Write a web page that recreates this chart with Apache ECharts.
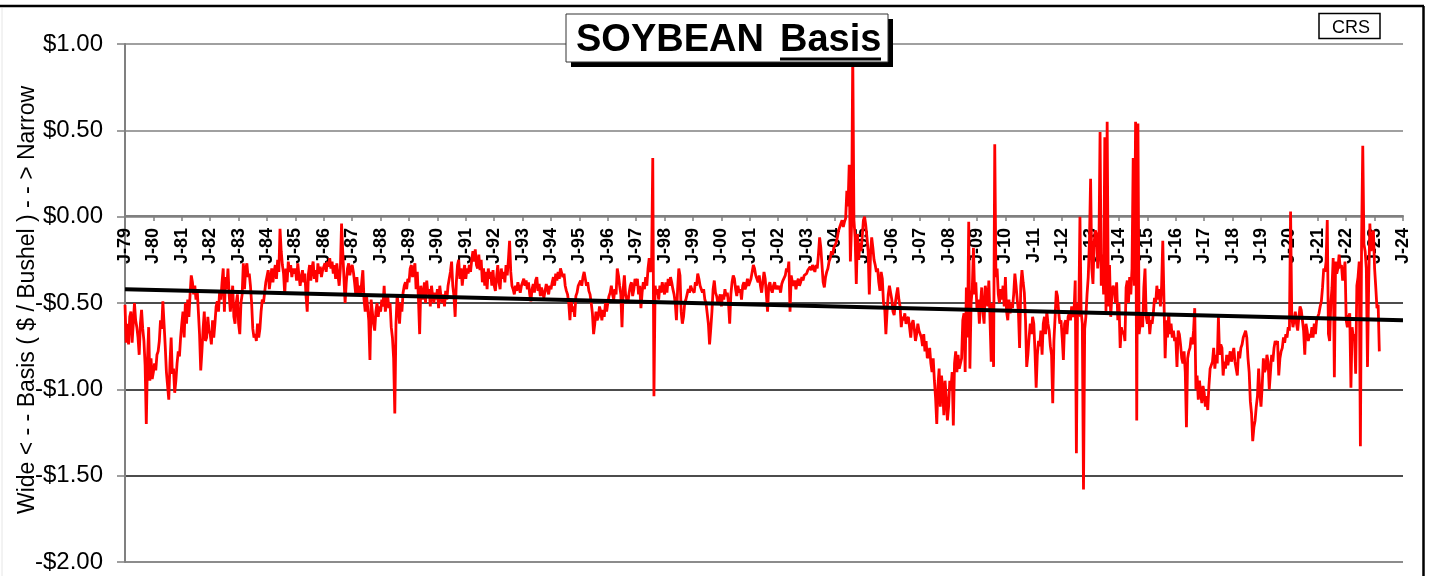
<!DOCTYPE html>
<html>
<head>
<meta charset="utf-8">
<title>SOYBEAN Basis</title>
<script src="https://cdn.jsdelivr.net/npm/echarts@6/dist/echarts.min.js"></script>
<style>
  html, body { margin: 0; padding: 0; background: #fff; }
  #main { width: 1431px; height: 576px; }
</style>
</head>
<body>
<div id="main"></div>
<script>
// weekly-ish basis readings, 24 per year ($ / bushel)
var basis1979 = [
  -0.51,-0.73,-0.62,-0.74,-0.58,-0.55,-0.73,-0.62,-0.50,-0.60,-0.64,-0.70,-0.80,-0.62,-0.54,-0.65,-0.72,-0.86,-1.20,-0.83,-0.64,-0.95,-0.82,-0.94, // 1979
  -0.90,-0.85,-0.89,-0.80,-0.78,-0.72,-0.60,-0.65,-0.49,-0.62,-0.75,-0.90,-0.98,-1.06,-0.85,-0.70,-0.91,-0.88,-1.02,-0.95,-0.85,-0.78,-0.81,-0.70, // 1980
  -0.62,-0.55,-0.70,-0.50,-0.62,-0.48,-0.58,-0.45,-0.34,-0.38,-0.45,-0.40,-0.48,-0.42,-0.55,-0.68,-0.89,-0.78,-0.65,-0.55,-0.72,-0.70,-0.58,-0.66, // 1981
  -0.68,-0.74,-0.60,-0.70,-0.62,-0.52,-0.49,-0.55,-0.43,-0.48,-0.38,-0.30,-0.55,-0.35,-0.42,-0.30,-0.45,-0.55,-0.48,-0.40,-0.58,-0.62,-0.50,-0.45, // 1982
  -0.62,-0.68,-0.50,-0.45,-0.27,-0.42,-0.30,-0.27,-0.35,-0.33,-0.40,-0.50,-0.65,-0.70,-0.68,-0.72,-0.62,-0.70,-0.65,-0.55,-0.48,-0.50,-0.44,-0.38, // 1983
  -0.38,-0.31,-0.42,-0.36,-0.30,-0.38,-0.32,-0.28,-0.36,-0.25,-0.32,-0.07,-0.20,-0.28,-0.33,-0.45,-0.30,-0.38,-0.26,-0.32,-0.28,-0.35,-0.30,-0.33, // 1984
  -0.30,-0.37,-0.27,-0.34,-0.40,-0.35,-0.31,-0.38,-0.33,-0.46,-0.55,-0.33,-0.28,-0.37,-0.30,-0.26,-0.36,-0.31,-0.38,-0.27,-0.33,-0.29,-0.35,-0.31, // 1985
  -0.30,-0.27,-0.32,-0.26,-0.29,-0.24,-0.30,-0.26,-0.33,-0.28,-0.36,-0.27,-0.34,-0.40,-0.30,-0.04,-0.20,-0.35,-0.50,-0.38,-0.30,-0.27,-0.34,-0.30, // 1986
  -0.28,-0.32,-0.38,-0.45,-0.35,-0.44,-0.40,-0.46,-0.38,-0.31,-0.48,-0.55,-0.45,-0.52,-0.60,-0.83,-0.48,-0.55,-0.62,-0.66,-0.55,-0.50,-0.58,-0.52, // 1987
  -0.55,-0.48,-0.52,-0.40,-0.55,-0.50,-0.46,-0.53,-0.50,-0.64,-0.70,-0.82,-1.14,-0.62,-0.45,-0.52,-0.62,-0.50,-0.55,-0.44,-0.40,-0.38,-0.42,-0.36  // 1988
];
var basis1989 = [
  -0.38,-0.30,-0.28,-0.35,-0.31,-0.27,-0.42,-0.32,-0.48,-0.68,-0.40,-0.45,-0.48,-0.38,-0.50,-0.37,-0.45,-0.42,-0.52,-0.40,-0.46,-0.50,-0.44,-0.48, // 1989
  -0.42,-0.53,-0.40,-0.46,-0.50,-0.45,-0.52,-0.43,-0.48,-0.40,-0.36,-0.32,-0.26,-0.40,-0.46,-0.58,-0.38,-0.28,-0.25,-0.36,-0.30,-0.40,-0.33,-0.28, // 1990
  -0.36,-0.30,-0.33,-0.28,-0.32,-0.25,-0.20,-0.26,-0.19,-0.28,-0.30,-0.22,-0.31,-0.25,-0.38,-0.30,-0.40,-0.32,-0.42,-0.30,-0.36,-0.32,-0.40,-0.31, // 1991
  -0.40,-0.43,-0.35,-0.28,-0.38,-0.42,-0.30,-0.36,-0.32,-0.38,-0.28,-0.34,-0.25,-0.14,-0.32,-0.40,-0.42,-0.45,-0.40,-0.43,-0.38,-0.41,-0.44,-0.40, // 1992
  -0.38,-0.36,-0.40,-0.37,-0.42,-0.38,-0.45,-0.49,-0.42,-0.39,-0.44,-0.37,-0.35,-0.43,-0.39,-0.46,-0.41,-0.44,-0.47,-0.48,-0.39,-0.42,-0.45,-0.40, // 1993
  -0.42,-0.38,-0.35,-0.40,-0.33,-0.37,-0.32,-0.36,-0.30,-0.31,-0.35,-0.33,-0.40,-0.43,-0.45,-0.50,-0.60,-0.48,-0.55,-0.52,-0.58,-0.46,-0.44,-0.40, // 1994
  -0.41,-0.37,-0.40,-0.35,-0.32,-0.36,-0.40,-0.38,-0.43,-0.45,-0.50,-0.56,-0.68,-0.62,-0.55,-0.60,-0.58,-0.52,-0.55,-0.60,-0.54,-0.58,-0.50,-0.55, // 1995
  -0.50,-0.46,-0.44,-0.40,-0.45,-0.48,-0.42,-0.45,-0.30,-0.34,-0.40,-0.45,-0.64,-0.42,-0.34,-0.45,-0.48,-0.50,-0.44,-0.40,-0.38,-0.46,-0.42,-0.36, // 1996
  -0.40,-0.36,-0.45,-0.40,-0.53,-0.44,-0.38,-0.42,-0.35,-0.40,-0.30,-0.24,-0.32,-0.28, 0.34,-1.04,-0.40,-0.45,-0.42,-0.48,-0.40,-0.44,-0.38,-0.42, // 1997
  -0.45,-0.38,-0.44,-0.36,-0.40,-0.35,-0.38,-0.42,-0.45,-0.50,-0.60,-0.42,-0.30,-0.34,-0.55,-0.62,-0.58,-0.50,-0.48,-0.45,-0.42,-0.44,-0.40,-0.42  // 1998
];
var basis1999 = [
  -0.41,-0.44,-0.38,-0.40,-0.33,-0.36,-0.40,-0.42,-0.44,-0.42,-0.48,-0.50,-0.56,-0.62,-0.74,-0.65,-0.55,-0.42,-0.37,-0.44,-0.46,-0.50,-0.48,-0.45, // 1999
  -0.52,-0.45,-0.48,-0.42,-0.46,-0.44,-0.50,-0.62,-0.45,-0.38,-0.34,-0.36,-0.42,-0.46,-0.40,-0.44,-0.42,-0.48,-0.40,-0.38,-0.42,-0.40,-0.36,-0.40, // 2000
  -0.38,-0.36,-0.32,-0.28,-0.30,-0.34,-0.36,-0.38,-0.34,-0.40,-0.44,-0.38,-0.32,-0.36,-0.45,-0.55,-0.40,-0.38,-0.42,-0.44,-0.40,-0.38,-0.42,-0.40, // 2001
  -0.42,-0.40,-0.44,-0.39,-0.37,-0.36,-0.34,-0.30,-0.32,-0.26,-0.55,-0.34,-0.38,-0.40,-0.37,-0.42,-0.38,-0.36,-0.40,-0.38,-0.35,-0.37,-0.34,-0.33, // 2002
  -0.33,-0.31,-0.30,-0.29,-0.31,-0.28,-0.30,-0.32,-0.28,-0.30,-0.22,-0.12,-0.18,-0.28,-0.38,-0.41,-0.35,-0.32,-0.30,-0.26,-0.24,-0.20,-0.22,-0.18, // 2003
  -0.18,-0.15,-0.12,-0.08,-0.06,-0.04,-0.02,-0.06,-0.03,-0.01, 0.15, 0.06, 0.30,-0.26,-0.05, 0.95,-0.02,-0.12,-0.39,-0.10,-0.25,-0.15,-0.20,-0.12, // 2004
  -0.02, 0.00,-0.05,-0.12,-0.20,-0.45,-0.22,-0.12,-0.18,-0.25,-0.28,-0.32,-0.30,-0.38,-0.43,-0.32,-0.36,-0.50,-0.53,-0.68,-0.55,-0.45,-0.40,-0.44, // 2005
  -0.48,-0.55,-0.57,-0.50,-0.45,-0.41,-0.48,-0.52,-0.64,-0.58,-0.60,-0.56,-0.62,-0.60,-0.58,-0.64,-0.70,-0.62,-0.60,-0.65,-0.72,-0.68,-0.62,-0.66, // 2006
  -0.65,-0.70,-0.75,-0.68,-0.78,-0.72,-0.82,-0.80,-0.76,-0.85,-0.90,-0.82,-0.95,-1.05,-1.20,-0.98,-0.88,-1.10,-0.92,-1.00,-1.15,-0.95,-1.05,-1.18, // 2007
  -1.10,-0.95,-1.00,-0.90,-1.21,-0.85,-0.78,-0.90,-0.80,-0.88,-0.85,-0.82,-0.60,-0.56,-0.90,-0.41,-0.70,-0.03,-0.88,-0.50,-0.42,-0.18,-0.45,-0.38  // 2008
];
var basis2009 = [
  -0.54,-0.48,-0.62,-0.50,-0.41,-0.55,-0.62,-0.40,-0.45,-0.52,-0.37,-0.60,-0.84,-0.50,-0.87, 0.42,-0.35,-0.30,-0.45,-0.50,-0.42,-0.48,-0.40,-0.52, // 2009
  -0.35,-0.55,-0.60,-0.48,-0.56,-0.50,-0.53,-0.45,-0.33,-0.40,-0.48,-0.55,-0.76,-0.40,-0.31,-0.38,-0.44,-0.60,-0.87,-0.80,-0.70,-0.62,-0.68,-0.58, // 2010
  -0.62,-0.78,-0.99,-0.80,-0.72,-0.75,-0.66,-0.80,-0.62,-0.58,-0.68,-0.55,-0.62,-0.66,-0.75,-0.80,-1.08,-0.72,-0.58,-0.43,-0.46,-0.55,-0.62,-0.60, // 2011
  -0.70,-0.83,-0.62,-0.60,-0.68,-0.58,-0.56,-0.60,-0.52,-0.58,-0.55,-0.37,-1.37,-0.50,-0.58, 0.00,-0.55,-0.62,-1.58,-0.65,-0.58,-0.45,-0.35,-0.15, // 2012
   0.22,-0.30,-0.39,-0.15,-0.08,-0.10,-0.30,-0.20, 0.49,-0.40,-0.22,-0.45, 0.46,-0.55, 0.55,-0.52,-0.28,-0.58,-0.45,-0.40,-0.42,-0.50,-0.38,-0.60, // 2013
  -0.50,-0.76,-0.64,-0.68,-0.66,-0.72,-0.41,-0.37,-0.50,-0.35,-0.45,-0.30, 0.34,-0.40, 0.55,-1.18, 0.54,-0.68,-0.68,-0.56,-0.64,-0.41,-0.30,-0.58, // 2014
  -0.62,-0.56,-0.68,-0.60,-0.62,-0.56,-0.47,-0.50,-0.40,-0.48,-0.42,-0.52,-0.40,-0.14,-0.48,-0.82,-0.60,-0.70,-0.56,-0.68,-0.62,-0.70,-0.66,-0.72, // 2015
  -0.70,-0.87,-0.66,-0.68,-0.74,-0.82,-0.85,-0.78,-0.90,-1.22,-0.82,-0.78,-0.76,-0.70,-0.74,-0.66,-0.53,-1.00,-0.92,-1.06,-0.95,-1.02,-1.08,-0.98, // 2016
  -1.02,-1.10,-1.04,-1.12,-0.98,-0.88,-0.86,-0.84,-0.76,-0.88,-0.80,-0.85,-0.58,-0.80,-0.74,-0.76,-0.92,-0.84,-0.88,-0.80,-0.86,-0.82,-0.78,-0.84, // 2017
  -0.80,-0.76,-0.84,-0.88,-0.92,-0.78,-0.82,-0.76,-0.74,-0.70,-0.68,-0.66,-0.70,-0.82,-0.90,-1.07,-1.14,-1.30,-1.22,-1.18,-1.10,-1.04,-0.88,-1.02  // 2018
];
var basis2019 = [
  -1.10,-0.98,-0.82,-0.90,-0.88,-0.80,-0.84,-1.00,-0.90,-0.80,-0.84,-0.76,-0.72,-0.74,-0.72,-0.92,-0.82,-0.78,-0.76,-0.70,-0.73,-0.68,-0.70,-0.64, // 2019
  -0.66, 0.03,-0.58,-0.64,-0.60,-0.55,-0.62,-0.66,-0.58,-0.52,-0.54,-0.60,-0.66,-0.80,-0.62,-0.66,-0.72,-0.68,-0.70,-0.64,-0.70,-0.62,-0.68,-0.60, // 2020
  -0.58,-0.56,-0.52,-0.49,-0.41,-0.30,-0.32,-0.26,-0.02,-0.68,-0.72,-0.50,-0.41,-0.24,-0.93,-0.26,-0.33,-0.30,-0.22,-0.30,-0.28,-0.37,-0.33,-0.26, // 2021
  -0.60,-0.64,-0.58,-0.56,-0.99,-0.64,-0.70,-0.68,-0.91,-0.40,-0.35,-0.26,-1.33,-0.14, 0.41,-0.16,-0.20,-0.30,-0.87,-0.39,-0.04,-0.20,-0.14,-0.08, // 2022
  -0.30,-0.41,-0.53,-0.51,-0.78                                                                                                                   // 2023
];
var blockStartYears = [1979, 1989, 1999, 2009, 2019];
var pointsPerYear = 24;

// linear trend of the whole series, end points
var trendYears = [1979, 2024];
var trendValues = [-0.42, -0.60];

var yearTicks = [1979, 2024];   // first / last J- label
var yTicks = [-2, 1, 0.5];      // min, max, step

var FONT = '"Liberation Sans", Arial, Helvetica, sans-serif';

var blocks = [basis1979, basis1989, basis1999, basis2009, basis2019];
var basisData = [];
blocks.forEach(function (arr, b) {
  arr.forEach(function (v, k) {
    basisData.push([blockStartYears[b] + k / pointsPerYear, v]);
  });
});
var trendData = trendYears.map(function (y, i) { return [y, trendValues[i]]; });

var myChart = echarts.init(document.getElementById('main'));

// plot area: left 125, right edge 1403, top 44 ($1.00), bottom 562 (-$2.00), zero line at 216
var option = {
  animation: false,
  backgroundColor: '#fff',
  grid: [
    { left: 125, right: 28, top: 44, bottom: 14, outerBoundsMode: 'none', containLabel: false },
    // upper half only, its bottom edge sits on the $0.00 line and carries the J- labels
    { left: 125, right: 28, top: 44, height: 172, outerBoundsMode: 'none', containLabel: false }
  ],
  xAxis: [
    {
      gridIndex: 0,
      type: 'value',
      min: yearTicks[0],
      max: yearTicks[1],
      interval: 1,
      axisLine: { show: false },
      axisTick: { show: false },
      axisLabel: { show: false },
      splitLine: { show: false }
    },
    {
      gridIndex: 1,
      type: 'value',
      position: 'bottom',
      min: yearTicks[0],
      max: yearTicks[1],
      interval: 1,
      axisLine: { onZero: false, lineStyle: { color: '#808080', width: 2 } },
      axisTick: { show: true, length: 5, lineStyle: { color: '#808080', width: 1.5 } },
      axisLabel: {
        rotate: 90,
        margin: 12,
        fontFamily: FONT,
        fontWeight: 'bold',
        fontSize: 18,
        color: '#000',
        hideOverlap: false,
        formatter: function (v) { return 'J-' + String(v).slice(2); }
      },
      splitLine: { show: false }
    }
  ],
  yAxis: [
    {
      gridIndex: 0,
      type: 'value',
      min: yTicks[0],
      max: yTicks[1],
      interval: yTicks[2],
      axisLine: { show: true, onZero: false, lineStyle: { color: '#808080', width: 2 } },
      axisTick: { show: true, length: 8, lineStyle: { color: '#808080', width: 1.5 } },
      axisLabel: {
        margin: 22,
        fontFamily: FONT,
        fontSize: 24,
        color: '#000',
        formatter: function (v) { return (v < 0 ? '-$' : '$') + Math.abs(v).toFixed(2); }
      },
      splitLine: {
        lineStyle: {
          color: ['#666', '#111', '#111', '#111', '#808080', '#808080', '#808080'],
          width: 1.5
        }
      }
    },
    {
      gridIndex: 1,
      type: 'value',
      min: 0,
      max: 1,
      show: false
    }
  ],
  series: [
    {
      name: 'Basis',
      type: 'line',
      data: basisData,
      showSymbol: false,
      silent: true,
      z: 2,
      lineStyle: { color: '#ff0000', width: 2.8 }
    },
    {
      name: 'Trend',
      type: 'line',
      data: trendData,
      showSymbol: false,
      silent: true,
      z: 3,
      lineStyle: { color: '#000', width: 4 }
    }
  ],
  graphic: [
    // outer frame
    { type: 'line', z: 100, shape: { x1: 0, y1: 6, x2: 1424, y2: 6 }, style: { stroke: '#000', lineWidth: 2.5 } },
    { type: 'line', z: 100, shape: { x1: 1423.5, y1: 6, x2: 1423.5, y2: 576 }, style: { stroke: '#000', lineWidth: 2.5 } },
    { type: 'line', z: 100, shape: { x1: 2, y1: 8, x2: 2, y2: 576 }, style: { stroke: '#e6e6e6', lineWidth: 1 } },
    // title box with shadow
    { type: 'rect', z: 100, shape: { x: 571, y: 19, width: 322, height: 48 }, style: { fill: '#000' } },
    { type: 'rect', z: 101, shape: { x: 566, y: 14, width: 322, height: 48 }, style: { fill: '#fff', stroke: '#333', lineWidth: 1 } },
    { type: 'text', z: 102, x: 576, y: 41, style: { text: 'SOYBEAN', font: 'bold 38px ' + FONT, fill: '#000', align: 'left', verticalAlign: 'middle' } },
    { type: 'text', z: 102, x: 780, y: 41, style: { text: 'Basis', font: 'bold 38px ' + FONT, fill: '#000', align: 'left', verticalAlign: 'middle' } },
    { type: 'line', z: 102, shape: { x1: 780, y1: 59, x2: 881, y2: 59 }, style: { stroke: '#000', lineWidth: 3 } },
    // CRS tag
    { type: 'rect', z: 100, shape: { x: 1319, y: 13.5, width: 61, height: 25 }, style: { fill: '#fff', stroke: '#000', lineWidth: 1.5 } },
    { type: 'text', z: 101, x: 1351, y: 28, style: { text: 'CRS', font: '18px ' + FONT, fill: '#000', align: 'center', verticalAlign: 'middle' } },
    // y axis title
    { type: 'text', z: 100, x: 28, y: 300, rotation: Math.PI / 2,
      style: { text: 'Wide < - - Basis ( $ / Bushel ) - - > Narrow', font: '23px ' + FONT, fill: '#000', align: 'center', verticalAlign: 'middle' } }
  ]
};

myChart.setOption(option);
</script>
</body>
</html>
